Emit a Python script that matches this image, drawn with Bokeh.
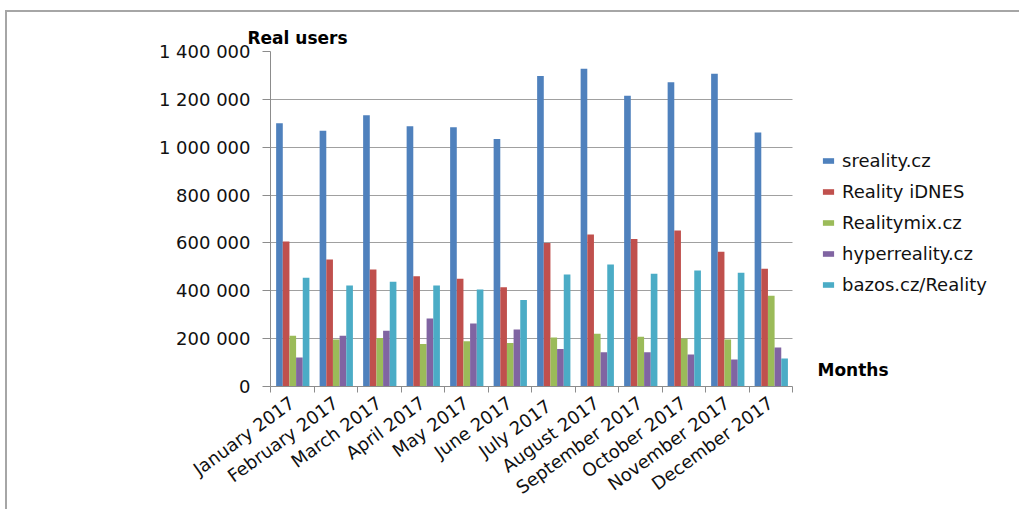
import numpy as np
from bokeh.plotting import figure
from bokeh.models import Range1d, FixedTicker, Legend, LegendItem, Label
from bokeh.embed import file_html
from bokeh.resources import INLINE

# ---------------- data ----------------
months = ["January 2017", "February 2017", "March 2017", "April 2017", "May 2017",
          "June 2017", "July  2017", "August 2017", "September 2017", "October 2017",
          "November 2017", "December 2017"]

sreality = [1100000, 1069000, 1134000, 1088000, 1083000, 1034000,
            1298000, 1328000, 1215000, 1272000, 1307000, 1061000]
reality_idnes = [606000, 531000, 489000, 461000, 450000, 415000,
                 600000, 635000, 616000, 652000, 563000, 492000]
realitymix = [212000, 196000, 203000, 178000, 189000, 182000,
              205000, 220000, 208000, 201000, 196000, 379000]
hyperreality = [121000, 212000, 233000, 284000, 263000, 238000,
                157000, 143000, 143000, 134000, 113000, 163000]
bazos = [454000, 422000, 438000, 422000, 405000, 362000,
         468000, 510000, 471000, 485000, 475000, 117000]

series_names = ["sreality.cz", "Reality iDNES", "Realitymix.cz", "hyperreality.cz", "bazos.cz/Reality"]
series_values = [sreality, reality_idnes, realitymix, hyperreality, bazos]
series_colors = ["#4F81BD", "#C0504D", "#9BBB59", "#8064A2", "#4BACC6"]

y_ticks = [0, 200000, 400000, 600000, 800000, 1000000, 1200000, 1400000]
y_tick_labels = ["0", "200 000", "400 000", "600 000", "800 000",
                 "1 000 000", "1 200 000", "1 400 000"]

y_title = "Real users"
x_title = "Months"

# ---------------- figure ----------------
FONT = "DejaVu Sans"
n = len(months)
plot_w = 522            # pixels covered by the 12 month slots
frame_w = 731           # frame continues to the right to host legend / "Months"
x_end = n * frame_w / plot_w

p = figure(output_backend="svg", toolbar_location=None,
           x_range=Range1d(0, x_end), y_range=Range1d(0, y_ticks[-1]),
           frame_width=frame_w, frame_height=335,
           min_border_left=263, min_border_right=18,
           min_border_top=39, min_border_bottom=118)
p.styles = {"border-left": "2px solid #a6a6a6", "border-top": "2px solid #a6a6a6",
            "border-right": "0px none", "border-bottom": "0px none",
            "margin-left": "5px", "margin-top": "10px"}
p.outline_line_color = None
p.background_fill_color = "white"
p.border_fill_color = "white"

idx = np.arange(n)
bar_w = 0.153
renderers = []
for k, (name, vals, col) in enumerate(zip(series_names, series_values, series_colors)):
    xs = idx + 0.5 + (k - 2) * bar_w + 0.012
    r = p.vbar(x=xs, top=vals, bottom=0, width=bar_w, fill_color=col, line_color=None)
    renderers.append(r)

# x axis
xax = p.xaxis[0]
xax.bounds = (0, n)
xax.ticker = FixedTicker(ticks=[float(i) + 0.5 for i in idx],
                         minor_ticks=[float(i) for i in range(n + 1)])
xax.major_label_overrides = {float(i) + 0.5: m for i, m in enumerate(months)}
xax.major_label_orientation = 0.63
xax.major_tick_line_color = None
xax.major_tick_out = 0
xax.major_tick_in = 0
xax.minor_tick_line_color = "#8c8c8c"
xax.minor_tick_out = 6
xax.minor_tick_in = 0
xax.axis_line_color = "#8c8c8c"
xax.major_label_standoff = 8
xax.major_label_text_font = FONT
xax.major_label_text_font_size = "18px"
xax.major_label_text_color = "#111111"

# y axis
yax = p.yaxis[0]
yax.ticker = FixedTicker(ticks=y_ticks, minor_ticks=[])
yax.major_label_overrides = {t: s for t, s in zip(y_ticks, y_tick_labels)}
yax.major_tick_line_color = "#8c8c8c"
yax.major_tick_out = 8
yax.major_tick_in = 0
yax.minor_tick_line_color = None
yax.axis_line_color = "#8c8c8c"
yax.major_label_standoff = 12
yax.major_label_text_font = FONT
yax.major_label_text_font_size = "18px"
yax.major_label_text_color = "#111111"

p.xgrid.visible = False
p.ygrid.grid_line_color = "#a0a0a0"
p.ygrid.cross_bounds = (0, n)

# titles
p.title.text = y_title
p.title.align = "left"
p.title.offset = -23
p.title.standoff = 8
p.title.text_font = FONT
p.title.text_font_size = "17px"
p.title.text_font_style = "bold"
p.title.text_color = "#000000"

p.add_layout(Label(x=547, y=17, x_units="screen", y_units="screen", text=x_title,
                   text_font=FONT, text_font_size="17px", text_font_style="bold",
                   text_baseline="middle", text_color="#000000"))

# legend
legend = Legend(items=[LegendItem(label=nm, renderers=[r]) for nm, r in zip(series_names, renderers)],
                location=(551, 91), orientation="vertical",
                glyph_width=14, glyph_height=7, label_height=21, spacing=10,
                label_standoff=7, padding=0, margin=0,
                border_line_color=None, background_fill_alpha=0,
                label_text_font=FONT, label_text_font_size="18px",
                label_text_color="#111111")
p.add_layout(legend, "center")

open("out.html", "w").write(file_html(p, INLINE))
